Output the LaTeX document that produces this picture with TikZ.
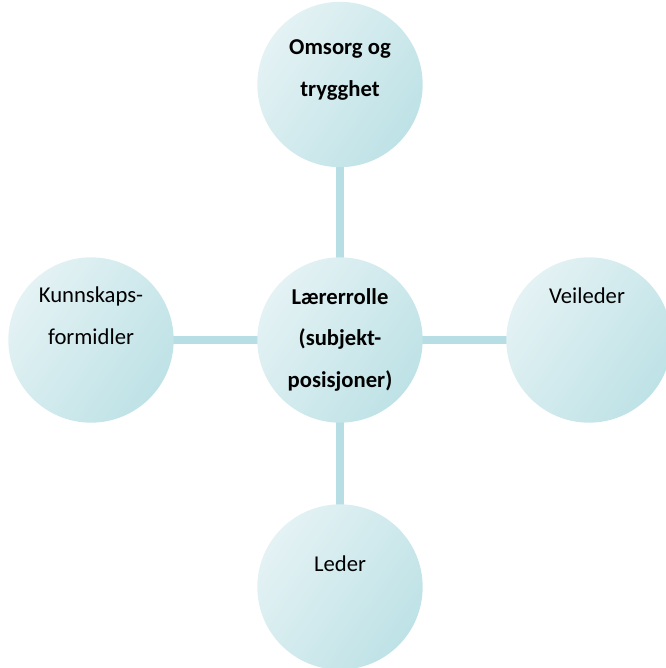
\documentclass[tikz,border=0pt]{standalone}
\usepackage{fontspec}
\setmainfont{Carlito}
\usetikzlibrary{calc,positioning}
\definecolor{discLight}{RGB}{228,242,244}
\definecolor{discDark}{RGB}{190,226,230}
\definecolor{linkTeal}{RGB}{183,222,228}

\begin{document}
\begin{tikzpicture}[x=0.75pt,y=-0.75pt]
  \tikzset{
    disc/.style={circle,minimum size=124pt,inner sep=0pt,top color=discLight,bottom color=discDark,shading angle=55},
    link/.style={draw=linkTeal,line width=5.5pt},
    txt/.style={font=\fontsize{17}{31}\selectfont,align=center,anchor=base},
    boldtxt/.style={txt,font=\fontsize{17}{31}\selectfont\bfseries},
  }
  \useasboundingbox (0,0) rectangle (666,668);

  \coordinate (c0) at (340,340); \coordinate (c1) at (340,84.5);
  \coordinate (c2) at (91,340);  \coordinate (c3) at (589,340);
  \coordinate (c4) at (340,587);

  \draw[link] (c0) -- (c1);
  \draw[link] (c0) -- (c2);
  \draw[link] (c0) -- (c3);
  \draw[link] (c0) -- (c4);

  \node[disc] (mid) at (c0) {};
  \node[disc] (care) at (c1) {};
  \node[disc] (know) at (c2) {};
  \node[disc] (guide) at (c3) {};
  \node[disc] (lead) at (c4) {};

  % base anchor of a multi-line node = last line
  \node[boldtxt] (midtxt) at ($(c0)+(0,47)$) {Lærerrolle\\(subjekt-\\posisjoner)};
  \node[boldtxt] (caretxt) at ($(c1)+(0,11.5)$) {Omsorg og\\trygghet};
  \node[txt] (knowtxt) at ($(c2)+(0,4)$) {Kunnskaps-\\formidler};
  \node[txt] (guidetxt) at ($(c3)+(-2,-37)$) {Veileder};
  \node[txt] (leadtxt) at ($(c4)+(0,-16)$) {Leder};
\end{tikzpicture}
\end{document}
